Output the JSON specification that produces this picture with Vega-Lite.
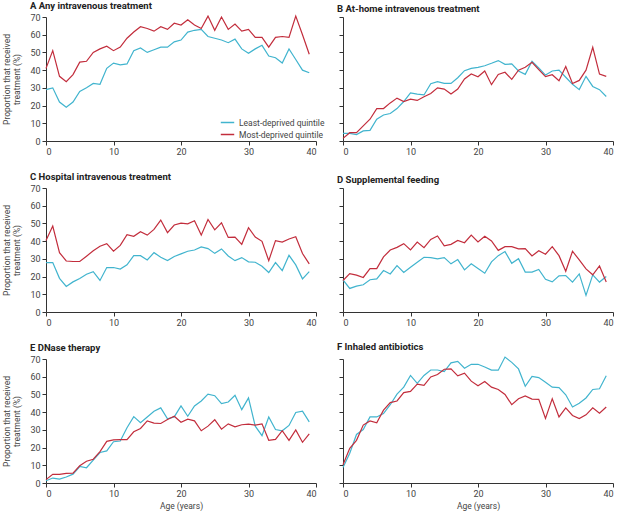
{
  "$schema": "https://vega.github.io/schema/vega-lite/v6.json",
  "padding": {"left": 2, "top": 0, "right": 2, "bottom": 2},
  "background": "white",
  "config": {
    "view": {"stroke": null},
    "font": "Roboto",
    "axis": {"grid": false, "domainColor": "#333", "tickColor": "#333", "tickSize": 4, "labelFont": "Roboto", "labelFontSize": 9, "labelColor": "#444", "titleFont": "Roboto", "titleFontSize": 8.5, "titleFontWeight": "normal", "titleColor": "#444", "labelPadding": 2},
    "title": {"anchor": "start", "frame": "group", "font": "Roboto", "fontSize": 9.5, "fontWeight": "bold", "color": "#222", "offset": 3},
    "legend": {"labelFont": "Roboto", "labelFontSize": 8.5, "labelColor": "#444"}
  },
  "data": {"values": [
{"panel":"A","age":0,"least":29,"most":41},{"panel":"A","age":1,"least":30,"most":51},{"panel":"A","age":2,"least":22,"most":36.5},{"panel":"A","age":3,"least":19,"most":33.5},{"panel":"A","age":4,"least":22,"most":37.5},{"panel":"A","age":5,"least":28,"most":44.5},{"panel":"A","age":6,"least":30,"most":45},{"panel":"A","age":7,"least":32.5,"most":50},{"panel":"A","age":8,"least":32,"most":52},{"panel":"A","age":9,"least":41,"most":53.5},{"panel":"A","age":10,"least":44,"most":51},{"panel":"A","age":11,"least":43,"most":53},{"panel":"A","age":12,"least":43.5,"most":58},{"panel":"A","age":13,"least":51,"most":61.5},{"panel":"A","age":14,"least":52.5,"most":64.5},{"panel":"A","age":15,"least":50,"most":63.5},{"panel":"A","age":16,"least":51.5,"most":62},{"panel":"A","age":17,"least":53,"most":64.5},{"panel":"A","age":18,"least":53,"most":63},{"panel":"A","age":19,"least":56,"most":66.5},{"panel":"A","age":20,"least":57,"most":65.5},{"panel":"A","age":21,"least":61.5,"most":68.5},{"panel":"A","age":22,"least":62.5,"most":65.5},{"panel":"A","age":23,"least":63,"most":63.5},{"panel":"A","age":24,"least":59,"most":70.5},{"panel":"A","age":25,"least":58,"most":62.5},{"panel":"A","age":26,"least":57,"most":70},{"panel":"A","age":27,"least":55.5,"most":63},{"panel":"A","age":28,"least":57.5,"most":66},{"panel":"A","age":29,"least":52,"most":62},{"panel":"A","age":30,"least":49.5,"most":63},{"panel":"A","age":31,"least":52,"most":58.5},{"panel":"A","age":32,"least":54,"most":58.5},{"panel":"A","age":33,"least":48,"most":53},{"panel":"A","age":34,"least":47,"most":58.5},{"panel":"A","age":35,"least":44,"most":59},{"panel":"A","age":36,"least":52,"most":58.5},{"panel":"A","age":37,"least":46,"most":70.5},{"panel":"A","age":38,"least":40,"most":60},{"panel":"A","age":39,"least":38.5,"most":49},
{"panel":"B","age":0,"least":4.3,"most":1.5},{"panel":"B","age":1,"least":4.3,"most":4.7},{"panel":"B","age":2,"least":3.6,"most":4.7},{"panel":"B","age":3,"least":5.7,"most":8.5},{"panel":"B","age":4,"least":6,"most":12.3},{"panel":"B","age":5,"least":12.3,"most":18.3},{"panel":"B","age":6,"least":14.7,"most":18.3},{"panel":"B","age":7,"least":15.5,"most":21.5},{"panel":"B","age":8,"least":18.3,"most":24.2},{"panel":"B","age":9,"least":22.3,"most":22.3},{"panel":"B","age":10,"least":27.2,"most":23.6},{"panel":"B","age":11,"least":26.5,"most":22.9},{"panel":"B","age":12,"least":26,"most":25},{"panel":"B","age":13,"least":32.3,"most":26.8},{"panel":"B","age":14,"least":33.5,"most":30},{"panel":"B","age":15,"least":32.5,"most":29.3},{"panel":"B","age":16,"least":32.5,"most":26.5},{"panel":"B","age":17,"least":35.7,"most":29.3},{"panel":"B","age":18,"least":39.7,"most":35},{"panel":"B","age":19,"least":41,"most":37.8},{"panel":"B","age":20,"least":41.6,"most":36.3},{"panel":"B","age":21,"least":42.5,"most":39.5},{"panel":"B","age":22,"least":43.9,"most":31.8},{"panel":"B","age":23,"least":45.4,"most":37.6},{"panel":"B","age":24,"least":43.3,"most":38.8},{"panel":"B","age":25,"least":43.5,"most":34.8},{"panel":"B","age":26,"least":39.5,"most":40},{"panel":"B","age":27,"least":37.6,"most":41.6},{"panel":"B","age":28,"least":45,"most":44.4},{"panel":"B","age":29,"least":41.2,"most":40.3},{"panel":"B","age":30,"least":37.2,"most":36.3},{"panel":"B","age":31,"least":39.5,"most":37.4},{"panel":"B","age":32,"least":40,"most":34},{"panel":"B","age":33,"least":36,"most":42},{"panel":"B","age":34,"least":32,"most":32.5},{"panel":"B","age":35,"least":29,"most":34.2},{"panel":"B","age":36,"least":36.5,"most":40},{"panel":"B","age":37,"least":30.8,"most":52.9},{"panel":"B","age":38,"least":29,"most":37.8},{"panel":"B","age":39,"least":25.1,"most":36.5},
{"panel":"C","age":0,"least":27.9,"most":40.3},{"panel":"C","age":1,"least":27.9,"most":48.5},{"panel":"C","age":2,"least":19,"most":33.5},{"panel":"C","age":3,"least":14.4,"most":28.8},{"panel":"C","age":4,"least":17,"most":28.5},{"panel":"C","age":5,"least":18.9,"most":28.5},{"panel":"C","age":6,"least":21.3,"most":31.5},{"panel":"C","age":7,"least":22.8,"most":34.6},{"panel":"C","age":8,"least":17.8,"most":37.1},{"panel":"C","age":9,"least":25.1,"most":38.6},{"panel":"C","age":10,"least":25.1,"most":34.3},{"panel":"C","age":11,"least":24.2,"most":37.6},{"panel":"C","age":12,"least":26.6,"most":43.6},{"panel":"C","age":13,"least":31.8,"most":42.7},{"panel":"C","age":14,"least":31.8,"most":45.3},{"panel":"C","age":15,"least":29.4,"most":43.4},{"panel":"C","age":16,"least":33.5,"most":46.6},{"panel":"C","age":17,"least":30.9,"most":51.9},{"panel":"C","age":18,"least":29,"most":44.8},{"panel":"C","age":19,"least":31.3,"most":49.1},{"panel":"C","age":20,"least":32.8,"most":50.2},{"panel":"C","age":21,"least":34.3,"most":49.8},{"panel":"C","age":22,"least":35,"most":51.5},{"panel":"C","age":23,"least":36.7,"most":43.4},{"panel":"C","age":24,"least":35.8,"most":52.2},{"panel":"C","age":25,"least":33.1,"most":46.4},{"panel":"C","age":26,"least":35.6,"most":50.4},{"panel":"C","age":27,"least":31.6,"most":42.1},{"panel":"C","age":28,"least":29,"most":42.3},{"panel":"C","age":29,"least":30.7,"most":38.2},{"panel":"C","age":30,"least":28.3,"most":47.6},{"panel":"C","age":31,"least":28.1,"most":42.3},{"panel":"C","age":32,"least":25.8,"most":39.9},{"panel":"C","age":33,"least":22.3,"most":29},{"panel":"C","age":34,"least":27.9,"most":40.3},{"panel":"C","age":35,"least":23.4,"most":39.5},{"panel":"C","age":36,"least":32,"most":41.2},{"panel":"C","age":37,"least":26.6,"most":42.5},{"panel":"C","age":38,"least":18.7,"most":33},{"panel":"C","age":39,"least":22.8,"most":27.2},
{"panel":"D","age":0,"least":18.2,"most":17.8},{"panel":"D","age":1,"least":13.3,"most":21.7},{"panel":"D","age":2,"least":14.6,"most":20.8},{"panel":"D","age":3,"least":15.4,"most":19.5},{"panel":"D","age":4,"least":18.2,"most":24.5},{"panel":"D","age":5,"least":18.7,"most":24.5},{"panel":"D","age":6,"least":23.4,"most":31.1},{"panel":"D","age":7,"least":21.5,"most":35},{"panel":"D","age":8,"least":26.2,"most":36.5},{"panel":"D","age":9,"least":22.3,"most":38.6},{"panel":"D","age":10,"least":25.3,"most":35},{"panel":"D","age":11,"least":28.1,"most":39.5},{"panel":"D","age":12,"least":30.9,"most":36.3},{"panel":"D","age":13,"least":30.7,"most":41},{"panel":"D","age":14,"least":30,"most":42.9},{"panel":"D","age":15,"least":30.7,"most":37.3},{"panel":"D","age":16,"least":27.2,"most":38.2},{"panel":"D","age":17,"least":29.6,"most":40.4},{"panel":"D","age":18,"least":23.8,"most":39.1},{"panel":"D","age":19,"least":27.2,"most":43.4},{"panel":"D","age":20,"least":24.5,"most":39.5},{"panel":"D","age":21,"least":21.9,"most":42.7},{"panel":"D","age":22,"least":28.3,"most":40.1},{"panel":"D","age":23,"least":31.8,"most":34.8},{"panel":"D","age":24,"least":34.1,"most":36.9},{"panel":"D","age":25,"least":27.5,"most":36.9},{"panel":"D","age":26,"least":30.1,"most":35.6},{"panel":"D","age":27,"least":22.5,"most":35.8},{"panel":"D","age":28,"least":22.5,"most":31.6},{"panel":"D","age":29,"least":24,"most":34.6},{"panel":"D","age":30,"least":18.5,"most":32.6},{"panel":"D","age":31,"least":17,"most":36.9},{"panel":"D","age":32,"least":20.4,"most":31.8},{"panel":"D","age":33,"least":20.6,"most":23},{"panel":"D","age":34,"least":16.9,"most":34.3},{"panel":"D","age":35,"least":21.5,"most":29.4},{"panel":"D","age":36,"least":9.4,"most":24.3},{"panel":"D","age":37,"least":21,"most":21},{"panel":"D","age":38,"least":16.9,"most":26},{"panel":"D","age":39,"least":20,"most":16.9},
{"panel":"E","age":0,"least":1.3,"most":1.9},{"panel":"E","age":1,"least":2.8,"most":4.9},{"panel":"E","age":2,"least":2.2,"most":4.9},{"panel":"E","age":3,"least":3.4,"most":5.4},{"panel":"E","age":4,"least":5,"most":5.6},{"panel":"E","age":5,"least":9.3,"most":9.7},{"panel":"E","age":6,"least":8.6,"most":12.3},{"panel":"E","age":7,"least":12.9,"most":13.4},{"panel":"E","age":8,"least":17.2,"most":17.7},{"panel":"E","age":9,"least":18.1,"most":23.5},{"panel":"E","age":10,"least":23.3,"most":24.3},{"panel":"E","age":11,"least":23.7,"most":24.5},{"panel":"E","age":12,"least":31.2,"most":24.5},{"panel":"E","age":13,"least":37.5,"most":28.9},{"panel":"E","age":14,"least":34,"most":30.8},{"panel":"E","age":15,"least":37.3,"most":35.1},{"panel":"E","age":16,"least":40.5,"most":33.8},{"panel":"E","age":17,"least":42.4,"most":33.6},{"panel":"E","age":18,"least":36.2,"most":35.8},{"panel":"E","age":19,"least":37.3,"most":37.7},{"panel":"E","age":20,"least":43.5,"most":34.3},{"panel":"E","age":21,"least":37.7,"most":36},{"panel":"E","age":22,"least":43.5,"most":35.1},{"panel":"E","age":23,"least":46.3,"most":29.5},{"panel":"E","age":24,"least":50.2,"most":32.1},{"panel":"E","age":25,"least":49.3,"most":35.7},{"panel":"E","age":26,"least":44.8,"most":30.4},{"panel":"E","age":27,"least":45.7,"most":33.4},{"panel":"E","age":28,"least":49.5,"most":31.7},{"panel":"E","age":29,"least":41.4,"most":32.9},{"panel":"E","age":30,"least":48,"most":33.2},{"panel":"E","age":31,"least":32.1,"most":32.7},{"panel":"E","age":32,"least":26.7,"most":33.4},{"panel":"E","age":33,"least":37.3,"most":24.1},{"panel":"E","age":34,"least":30.2,"most":24.6},{"panel":"E","age":35,"least":29.5,"most":29.5},{"panel":"E","age":36,"least":32.5,"most":24.1},{"panel":"E","age":37,"least":39.8,"most":30},{"panel":"E","age":38,"least":40.5,"most":23},{"panel":"E","age":39,"least":34.5,"most":27.8},
{"panel":"F","age":0,"least":8.8,"most":10.3},{"panel":"F","age":1,"least":16.8,"most":19.6},{"panel":"F","age":2,"least":27.4,"most":24.1},{"panel":"F","age":3,"least":30.2,"most":32.7},{"panel":"F","age":4,"least":37.3,"most":35},{"panel":"F","age":5,"least":37.3,"most":34},{"panel":"F","age":6,"least":39.2,"most":41.1},{"panel":"F","age":7,"least":44.2,"most":45.4},{"panel":"F","age":8,"least":50.2,"most":46.3},{"panel":"F","age":9,"least":54.1,"most":51},{"panel":"F","age":10,"least":60.7,"most":51.7},{"panel":"F","age":11,"least":56.2,"most":55.8},{"panel":"F","age":12,"least":60.7,"most":55.1},{"panel":"F","age":13,"least":63.8,"most":59.9},{"panel":"F","age":14,"least":63.8,"most":61.2},{"panel":"F","age":15,"least":62.9,"most":64.2},{"panel":"F","age":16,"least":67.8,"most":64.4},{"panel":"F","age":17,"least":68.7,"most":60.5},{"panel":"F","age":18,"least":64.8,"most":62},{"panel":"F","age":19,"least":67,"most":57.5},{"panel":"F","age":20,"least":67,"most":54.9},{"panel":"F","age":21,"least":65.5,"most":57.3},{"panel":"F","age":22,"least":63.7,"most":54.1},{"panel":"F","age":23,"least":63.7,"most":52.8},{"panel":"F","age":24,"least":71.1,"most":50},{"panel":"F","age":25,"least":68.1,"most":44.2},{"panel":"F","age":26,"least":64.4,"most":47.6},{"panel":"F","age":27,"least":54.6,"most":49.1},{"panel":"F","age":28,"least":60.2,"most":47.4},{"panel":"F","age":29,"least":59.5,"most":47.2},{"panel":"F","age":30,"least":56.9,"most":36.4},{"panel":"F","age":31,"least":54.1,"most":47.6},{"panel":"F","age":32,"least":53.8,"most":37.3},{"panel":"F","age":33,"least":49.8,"most":42.4},{"panel":"F","age":34,"least":42.9,"most":38.1},{"panel":"F","age":35,"least":45,"most":36.4},{"panel":"F","age":36,"least":48,"most":38.5},{"panel":"F","age":37,"least":52.8,"most":42.4},{"panel":"F","age":38,"least":53.2,"most":39.4},{"panel":"F","age":39,"least":60.5,"most":42.9}
  ]},
  "columns": 2,
  "spacing": {"row": 47, "column": 27},
  "bounds": "flush",
  "resolve": {"scale": {"color": "shared"}, "legend": {"color": "independent"}},
  "concat": [
    {
      "title": {"text": "A  Any intravenous treatment", "dx": -16},
      "width": 270, "height": 124,
      "transform": [{"filter": "datum.panel == 'A'"}, {"fold": ["least", "most"], "as": ["quintile", "pct"]}],
      "mark": {"type": "line", "strokeWidth": 1.2},
      "encoding": {
        "x": {"field": "age", "type": "quantitative", "scale": {"domain": [0, 40], "nice": false}, "axis": {"values": [0, 10, 20, 30, 40], "title": null}},
        "y": {"field": "pct", "type": "quantitative", "scale": {"domain": [0, 70], "nice": false}, "axis": {"values": [0, 10, 20, 30, 40, 50, 60, 70], "title": ["Proportion that received", "treatment (%)"], "titlePadding": 8}},
        "color": {"field": "quintile", "type": "nominal", "scale": {"domain": ["least", "most"], "range": ["#41b4ce", "#c22d3c"]},
          "legend": {"title": null, "orient": "none", "legendX": 174, "legendY": 98, "symbolType": "stroke", "symbolSize": 180, "symbolStrokeWidth": 1.5, "rowPadding": -2, "labelExpr": "datum.value == 'least' ? 'Least-deprived quintile' : 'Most-deprived quintile'"}}
      }
    },
    {
      "title": {"text": "B  At-home intravenous treatment", "dx": -6},
      "width": 270, "height": 124,
      "transform": [{"filter": "datum.panel == 'B'"}, {"fold": ["least", "most"], "as": ["quintile", "pct"]}],
      "mark": {"type": "line", "strokeWidth": 1.2},
      "encoding": {
        "x": {"field": "age", "type": "quantitative", "scale": {"domain": [0, 40], "nice": false}, "axis": {"values": [0, 10, 20, 30, 40], "title": null}},
        "y": {"field": "pct", "type": "quantitative", "scale": {"domain": [0, 70], "nice": false}, "axis": {"values": [0, 10, 20, 30, 40, 50, 60, 70], "title": null, "labels": false}},
        "color": {"field": "quintile", "type": "nominal", "legend": null}
      }
    },
    {
      "title": {"text": "C  Hospital intravenous treatment", "dx": -16},
      "width": 270, "height": 124,
      "transform": [{"filter": "datum.panel == 'C'"}, {"fold": ["least", "most"], "as": ["quintile", "pct"]}],
      "mark": {"type": "line", "strokeWidth": 1.2},
      "encoding": {
        "x": {"field": "age", "type": "quantitative", "scale": {"domain": [0, 40], "nice": false}, "axis": {"values": [0, 10, 20, 30, 40], "title": null}},
        "y": {"field": "pct", "type": "quantitative", "scale": {"domain": [0, 70], "nice": false}, "axis": {"values": [0, 10, 20, 30, 40, 50, 60, 70], "title": ["Proportion that received", "treatment (%)"], "titlePadding": 8}},
        "color": {"field": "quintile", "type": "nominal", "legend": null}
      }
    },
    {
      "title": {"text": "D  Supplemental feeding", "dx": -6},
      "width": 270, "height": 124,
      "transform": [{"filter": "datum.panel == 'D'"}, {"fold": ["least", "most"], "as": ["quintile", "pct"]}],
      "mark": {"type": "line", "strokeWidth": 1.2},
      "encoding": {
        "x": {"field": "age", "type": "quantitative", "scale": {"domain": [0, 40], "nice": false}, "axis": {"values": [0, 10, 20, 30, 40], "title": null}},
        "y": {"field": "pct", "type": "quantitative", "scale": {"domain": [0, 70], "nice": false}, "axis": {"values": [0, 10, 20, 30, 40, 50, 60, 70], "title": null, "labels": false}},
        "color": {"field": "quintile", "type": "nominal", "legend": null}
      }
    },
    {
      "title": {"text": "E  DNase therapy", "dx": -16},
      "width": 270, "height": 124,
      "transform": [{"filter": "datum.panel == 'E'"}, {"fold": ["least", "most"], "as": ["quintile", "pct"]}],
      "mark": {"type": "line", "strokeWidth": 1.2},
      "encoding": {
        "x": {"field": "age", "type": "quantitative", "scale": {"domain": [0, 40], "nice": false}, "axis": {"values": [0, 10, 20, 30, 40], "title": "Age (years)", "titlePadding": 3}},
        "y": {"field": "pct", "type": "quantitative", "scale": {"domain": [0, 70], "nice": false}, "axis": {"values": [0, 10, 20, 30, 40, 50, 60, 70], "title": ["Proportion that received", "treatment (%)"], "titlePadding": 8}},
        "color": {"field": "quintile", "type": "nominal", "legend": null}
      }
    },
    {
      "title": {"text": "F  Inhaled antibiotics", "dx": -6},
      "width": 270, "height": 124,
      "transform": [{"filter": "datum.panel == 'F'"}, {"fold": ["least", "most"], "as": ["quintile", "pct"]}],
      "mark": {"type": "line", "strokeWidth": 1.2},
      "encoding": {
        "x": {"field": "age", "type": "quantitative", "scale": {"domain": [0, 40], "nice": false}, "axis": {"values": [0, 10, 20, 30, 40], "title": "Age (years)", "titlePadding": 3}},
        "y": {"field": "pct", "type": "quantitative", "scale": {"domain": [0, 70], "nice": false}, "axis": {"values": [0, 10, 20, 30, 40, 50, 60, 70], "title": null, "labels": false}},
        "color": {"field": "quintile", "type": "nominal", "legend": null}
      }
    }
  ]
}
